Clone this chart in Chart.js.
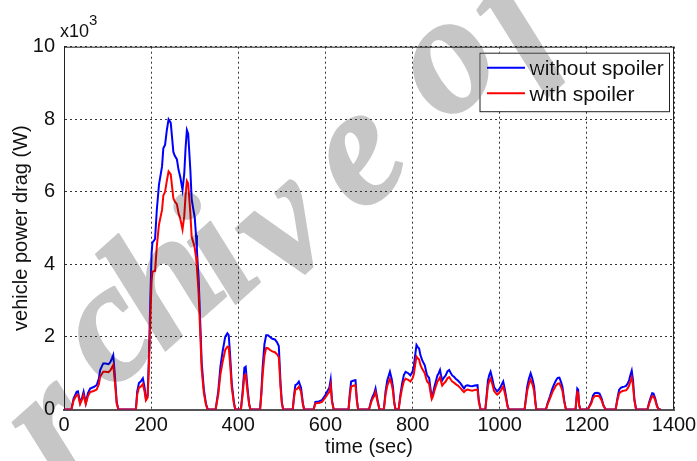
<!DOCTYPE html>
<html>
<head>
<meta charset="utf-8">
<script src="https://cdn.jsdelivr.net/npm/chart.js@4/dist/chart.umd.min.js"></script>
<style>
html,body{margin:0;padding:0;background:#fff;}
#wrap{width:697px;height:461px;position:relative;}
</style>
</head>
<body>
<div id="wrap"><canvas id="c" width="697" height="461"></canvas></div>
<script>
// time (sec)
const times = [0,17,22,29,32,37,42,45,50,55,60,68,75,80,83,90,96,102,106,110,113,117,121,125,165,168,172,176,181,185,188,192,195,198,201,203,209,213,218,225,228,232,236,240,245,248,251,254,259,263,267,272,276,279,282,285,287,290,293,297,300,303,305,309,313,316,321,326,330,348,354,359,364,370,375,378,381,385,390,393,406,410,414,417,421,425,428,450,453,456,460,464,468,473,478,484,489,493,497,500,503,525,528,531,535,539,544,548,551,573,577,585,592,600,606,609,612,615,619,653,656,659,665,669,672,675,700,705,708,712,715,719,724,734,738,742,748,752,755,758,761,768,772,776,780,784,790,795,800,803,806,809,812,815,818,822,828,833,838,842,844,847,850,854,857,860,863,866,868,872,876,880,884,888,891,895,899,904,910,914,918,922,926,932,937,943,949,952,956,967,970,973,976,979,983,987,991,994,998,1002,1005,1008,1011,1014,1018,1021,1057,1060,1063,1067,1071,1075,1079,1082,1084,1106,1110,1115,1121,1125,1129,1133,1137,1141,1144,1148,1152,1174,1176,1178,1180,1182,1185,1202,1206,1210,1214,1218,1224,1229,1234,1238,1243,1266,1270,1274,1278,1282,1286,1290,1294,1297,1300,1303,1306,1309,1313,1339,1343,1347,1350,1353,1357,1361,1365,1370];
// vehicle power drag (x10^3 W)
const withoutSpoiler = [0,0,0.3,0.49,0.5,0.18,0.35,0.49,0.18,0.45,0.58,0.62,0.67,0.85,1.09,1.27,1.27,1.25,1.3,1.41,1.5,0.9,0.2,0,0,0.5,0.73,0.77,0.86,0.6,0.3,0.4,1.5,3.0,4.3,4.6,4.7,5.5,6.2,6.7,7.2,7.3,7.7,8.0,7.9,7.5,7.1,7.0,6.9,6.6,6.4,6.05,6.5,7.2,7.7,7.6,7.2,6.6,5.8,5.5,5.3,4.8,4.4,3.6,2.3,1.3,0.55,0.15,0,0,0.5,1.18,1.6,2.0,2.1,2.05,1.55,0.73,0.2,0,0,0.5,1.15,1.18,0.62,0.15,0,0,0.5,1.18,1.8,2.05,2.05,2.0,1.95,1.93,1.85,1.75,0.73,0.2,0,0,0.4,0.67,0.7,0.77,0.6,0.2,0,0,0.21,0.22,0.26,0.4,0.54,0.6,0.82,0.26,0,0,0.45,0.77,0.8,0.81,0.3,0,0,0.25,0.35,0.45,0.58,0.3,0,0,0.5,0.81,1.04,0.85,0.62,0.2,0,0,0.4,0.72,0.95,1.04,1.0,0.94,1.05,1.2,1.5,1.78,1.72,1.68,1.5,1.36,1.22,0.95,0.87,0.5,0.35,0.45,0.62,0.8,0.94,1.0,1.09,0.9,0.8,0.88,0.94,1.05,1.09,1.0,0.94,0.9,0.85,0.8,0.72,0.65,0.58,0.65,0.67,0.65,0.64,0.66,0.67,0.26,0,0,0.4,0.8,0.95,1.04,0.85,0.62,0.55,0.5,0.55,0.62,0.7,0.77,0.6,0.4,0.1,0,0,0.3,0.62,0.85,1.0,0.85,0.62,0.2,0,0,0.18,0.35,0.58,0.7,0.8,0.87,0.88,0.75,0.62,0.26,0,0,0.3,0.58,0.55,0.15,0,0,0.1,0.2,0.38,0.45,0.46,0.44,0.3,0.12,0,0,0.3,0.54,0.6,0.62,0.63,0.65,0.72,0.81,0.95,1.07,0.8,0.3,0,0,0.2,0.35,0.45,0.44,0.3,0.1,0,0];
const withSpoiler = [0,0,0.25,0.4,0.41,0.15,0.29,0.4,0.15,0.37,0.48,0.51,0.55,0.7,0.9,1.04,1.04,1.03,1.07,1.16,1.23,0.74,0.16,0,0,0.41,0.6,0.63,0.7,0.49,0.25,0.33,1.23,2.46,3.53,3.8,3.82,4.5,5.1,5.5,5.9,6.0,6.3,6.56,6.48,6.15,5.82,5.74,5.66,5.41,5.25,4.96,5.33,5.9,6.3,6.23,5.9,5.41,4.76,4.6,4.45,4.2,3.93,3.2,2.0,1.1,0.45,0.12,0,0,0.41,0.97,1.31,1.64,1.73,1.72,1.3,0.6,0.16,0,0,0.41,0.94,0.96,0.51,0.12,0,0,0.41,0.97,1.48,1.7,1.69,1.64,1.6,1.58,1.52,1.44,0.6,0.16,0,0,0.33,0.55,0.57,0.63,0.49,0.16,0,0,0.17,0.18,0.21,0.33,0.44,0.49,0.67,0.21,0,0,0.37,0.63,0.66,0.66,0.25,0,0,0.2,0.29,0.37,0.48,0.25,0,0,0.41,0.66,0.85,0.7,0.51,0.16,0,0,0.33,0.59,0.78,0.85,0.82,0.77,0.86,0.98,1.23,1.46,1.41,1.38,1.23,1.12,1.0,0.78,0.71,0.41,0.29,0.37,0.51,0.66,0.77,0.82,0.89,0.74,0.66,0.72,0.77,0.86,0.89,0.82,0.77,0.74,0.7,0.66,0.59,0.53,0.48,0.53,0.55,0.53,0.52,0.54,0.55,0.21,0,0,0.33,0.66,0.78,0.85,0.7,0.51,0.45,0.41,0.45,0.51,0.57,0.63,0.49,0.33,0.08,0,0,0.25,0.51,0.7,0.82,0.7,0.51,0.16,0,0,0.15,0.29,0.48,0.57,0.66,0.71,0.72,0.62,0.51,0.21,0,0,0.25,0.48,0.45,0.12,0,0,0.08,0.16,0.31,0.37,0.38,0.36,0.25,0.1,0,0,0.25,0.44,0.49,0.51,0.52,0.53,0.59,0.66,0.78,0.88,0.66,0.25,0,0,0.16,0.29,0.37,0.36,0.25,0.08,0,0];
const seriesNames = ['without spoiler', 'with spoiler'];
const xTicks = [0,200,400,600,800,1000,1200,1400];
const yTicks = [0,2,4,6,8,10];
const xTitle = 'time (sec)';
const yTitle = 'vehicle power drag (W)';
const yExponent = '3';
const watermarkText = 'Archive of';

const FONT = "'Liberation Sans', Arial, sans-serif";
Chart.defaults.font.family = FONT;
Chart.defaults.font.size = 20;
Chart.defaults.color = '#111';

const toPts = arr => times.map((t, i) => ({x: t, y: arr[i]}));

const frameAndLegend = {
  id: 'frameAndLegend',
  afterDraw(chart) {
    const ctx = chart.ctx, a = chart.chartArea;
    ctx.save();
    ctx.strokeStyle = '#222'; ctx.lineWidth = 1; ctx.setLineDash([]);
    ctx.beginPath();
    ctx.moveTo(a.left, a.top + 0.5); ctx.lineTo(a.right, a.top + 0.5);
    ctx.moveTo(a.right - 0.5, a.top); ctx.lineTo(a.right - 0.5, a.bottom);
    ctx.stroke();
    ctx.fillStyle = '#111';
    ctx.textBaseline = 'alphabetic'; ctx.textAlign = 'left';
    ctx.font = '18px ' + FONT;
    ctx.fillText('x10', a.left - 4, a.top - 9.5);
    const w = ctx.measureText('x10').width;
    ctx.font = '15px ' + FONT;
    ctx.fillText(yExponent, a.left - 4 + w, a.top - 21.5);
    const bx = a.right - 194.5, by = a.top + 6, bw = 189.5, bh = 58.5;
    ctx.fillStyle = '#fff'; ctx.fillRect(bx, by, bw, bh);
    ctx.strokeStyle = '#222'; ctx.strokeRect(bx + 0.5, by + 0.5, bw, bh);
    const cols = ['#0000ff', '#ff0000'];
    const lys = [by + 15, by + 40.6];
    for (let i = 0; i < 2; i++) {
      ctx.strokeStyle = cols[i]; ctx.lineWidth = 2;
      ctx.beginPath(); ctx.moveTo(bx + 7.5, lys[i]); ctx.lineTo(bx + 45.5, lys[i]); ctx.stroke();
      ctx.fillStyle = '#111'; ctx.font = '21px ' + FONT;
      ctx.textBaseline = 'middle';
      ctx.fillText(seriesNames[i], bx + 50, lys[i] + 2);
    }
    ctx.restore();
  }
};

// watermark glyph centres (page pixels), one per character of watermarkText (space skipped)
const wmCentres = [[-10,500],[58,434],[113,338],[172,292],[224,262],[288,234],[362,162],null,[452,68],[518,22]];
const watermark = {
  id: 'watermark',
  afterDraw(chart) {
    const ctx = chart.ctx;
    ctx.save();
    ctx.globalCompositeOperation = 'darken';
    ctx.fillStyle = '#c6c6c6';
    ctx.strokeStyle = '#c6c6c6';
    ctx.lineWidth = 2;
    ctx.lineJoin = 'round';
    const F = 170;
    ctx.font = "italic bold " + F + "px 'Liberation Serif', serif";
    ctx.textBaseline = 'alphabetic';
    ctx.textAlign = 'center';
    [...watermarkText].forEach((ch, i) => {
      const c = wmCentres[i];
      if (!c || ch === ' ') return;
      ctx.save();
      ctx.translate(c[0], c[1]);
      ctx.rotate(-42 * Math.PI / 180);
      ctx.fillText(ch, 0, 0.23 * F);
      ctx.strokeText(ch, 0, 0.23 * F);
      ctx.restore();
    });
    ctx.restore();
  }
};

new Chart(document.getElementById('c'), {
  type: 'line',
  data: {
    datasets: [
      {label: seriesNames[0], data: toPts(withoutSpoiler), borderColor: '#0000ff', borderWidth: 2, pointRadius: 0, tension: 0, order: 1, fill: false},
      {label: seriesNames[1], data: toPts(withSpoiler), borderColor: '#ff0000', borderWidth: 2, pointRadius: 0, tension: 0, order: 0, fill: false}
    ]
  },
  options: {
    responsive: false,
    animation: false,
    events: [],
    layout: {padding: {left: 0, right: 23, top: 46.7, bottom: 0}},
    plugins: {legend: {display: false}, tooltip: {enabled: false}},
    scales: {
      x: {
        type: 'linear', min: 0, max: 1400,
        afterBuildTicks: s => { s.ticks = xTicks.map(v => ({value: v})); },
        afterFit: s => { s.height = 51.5; s.paddingLeft = 0; s.paddingRight = 0; },
        ticks: {padding: 4, color: '#111', maxRotation: 0, autoSkip: false, callback: v => String(v)},
        grid: {color: '#333', lineWidth: 1, drawTicks: false},
        border: {display: true, color: '#555', width: 2, dash: [2, 3]},
        title: {display: true, text: xTitle, color: '#111', font: {size: 20}, padding: {top: 0, bottom: 2}}
      },
      y: {
        type: 'linear', min: 0, max: 10,
        afterBuildTicks: s => { s.ticks = yTicks.map(v => ({value: v})); },
        afterFit: s => { s.width = 64; s.paddingTop = 0; s.paddingBottom = 0; },
        ticks: {padding: 9, color: '#111', callback: v => String(v)},
        grid: {color: '#333', lineWidth: 1, drawTicks: false},
        border: {display: true, color: '#222', width: 1, dash: [2, 3]},
        title: {display: true, text: yTitle, color: '#111', font: {size: 20}, padding: {top: 9, bottom: 0}}
      }
    }
  },
  plugins: [frameAndLegend, watermark]
});
</script>
</body>
</html>
